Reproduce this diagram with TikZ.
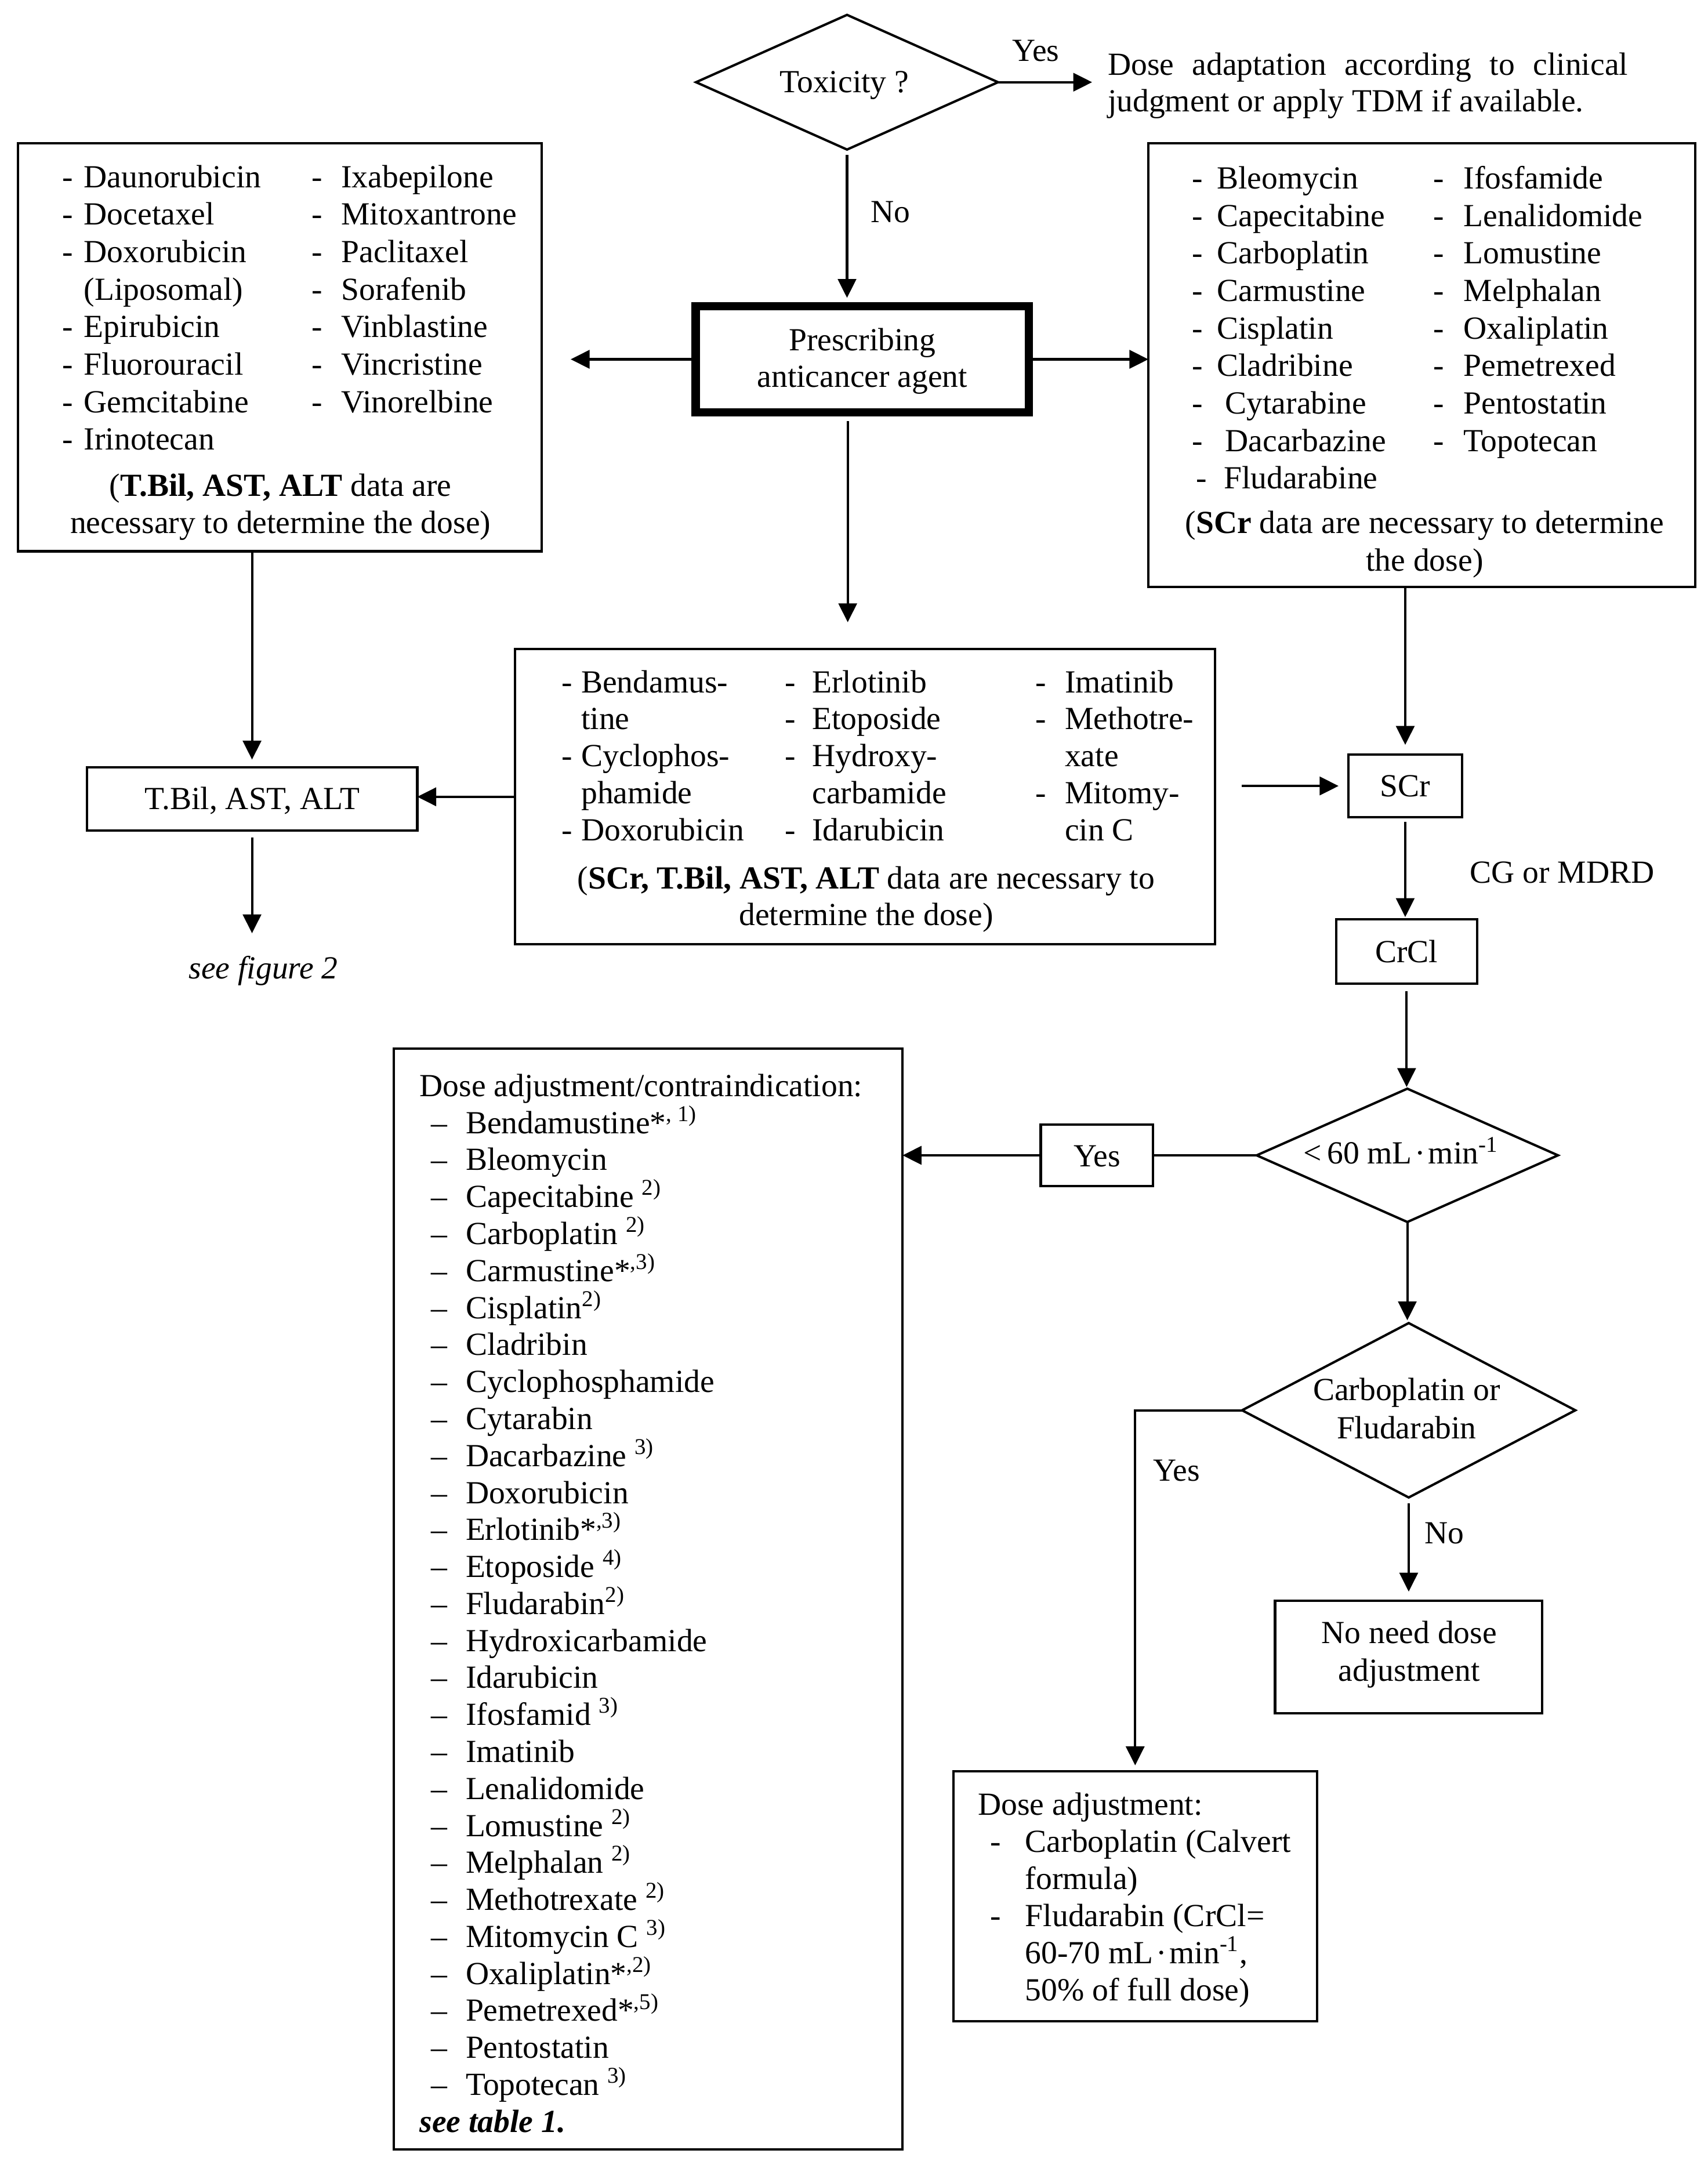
\documentclass[tikz,border=0pt]{standalone}
\usepackage{fontspec}
\setmainfont{Liberation Serif}
\usetikzlibrary{arrows.meta,shapes.geometric}
\newcommand\fsz{\fontsize{11.6}{13.35}\selectfont}
\begin{document}
\begin{tikzpicture}[x=0.5pt,y=-0.5pt,
  box/.style={draw, line width=0.85pt, inner sep=0pt, outer sep=0pt},
  thickbox/.style={draw, line width=3pt, inner sep=0pt, outer sep=0pt},
  dia/.style={draw, diamond, line width=0.85pt, inner sep=0pt, outer sep=0pt},
  tw/.style={font=\fsz, inner sep=0pt, anchor=base west},
  tc/.style={font=\fsz, inner sep=0pt, anchor=base},
  arr/.style={line width=0.85pt, -{Triangle[length=6.8pt,width=6.6pt]}},
  ln/.style={line width=0.85pt}]
\fill[white] (0,0) rectangle (1230,1569.2);
\useasboundingbox (0,0) rectangle (1230,1569.2);

% ---------- shapes ----------
\node[dia, minimum width=108.75pt, minimum height=48.5pt] (X) at (610,59.2) {};
\node[thickbox, minimum width=120pt, minimum height=38.25pt] (P) at (621,258.75) {};
\node[box, minimum width=188.6pt, minimum height=146.85pt] (L) at (201.4,250.15) {};
\node[box, minimum width=197pt, minimum height=159.7pt] (R) at (1024,263) {};
\node[box, minimum width=252pt, minimum height=106.3pt] (C) at (622.9,573.8) {};
\node[box, minimum width=119pt, minimum height=22.9pt] (T) at (181.5,575.3) {};
\node[box, minimum width=41pt, minimum height=22.6pt] (S) at (1012,566) {};
\node[box, minimum width=50.8pt, minimum height=23.1pt] (K) at (1013,685.1) {};
\node[dia, minimum width=108.5pt, minimum height=48pt] (D) at (1013.5,832) {};
\node[box, minimum width=40.5pt, minimum height=22.2pt] (Y) at (790,832) {};
\node[box, minimum width=183.25pt, minimum height=396.35pt] (B) at (466.75,1151.65) {};
\node[dia, minimum width=120pt, minimum height=62.8pt] (F) at (1014.5,1015.6) {};
\node[box, minimum width=96.25pt, minimum height=40.5pt] (N) at (1014.5,1193.3) {};
\node[box, minimum width=131pt, minimum height=90pt] (A) at (817.5,1365.7) {};

% ---------- texts ----------
\node[tc] (Xt) at (608,66.5) {Toxicity ?};
\node[tc] (yes1) at (746,44) {Yes};
\node[tw] (no1) at (626.6,160) {No};
\node[tw] (tdm1) at (797.4,54) {\makebox[187.3pt][s]{Dose adaptation according to clinical}};
\node[tw] (tdm2) at (797.4,80.5) {judgment or apply TDM if available.};
\coordinate (tdmtip) at (786.5,59.2);

\node[tc] (Pt1) at (621,252.5) {Prescribing};
\node[tc] (Pt2) at (621,279) {anticancer agent};

% left box
\foreach \t [count=\i from 0] in {Daunorubicin,Docetaxel,Doxorubicin}
  {\node[tw] (lad\i) at (44.3,135+27*\i) {-}; \node[tw] (la\i) at (60.1,135+27*\i) {\t};}
\node[tw] (la3) at (60.1,216) {(Liposomal)};
\foreach \t [count=\i from 4] in {Epirubicin,Fluorouracil,Gemcitabine,Irinotecan}
  {\node[tw] (lad\i) at (44.3,135+27*\i) {-}; \node[tw] (la\i) at (60.1,135+27*\i) {\t};}
\foreach \t [count=\i from 0] in {Ixabepilone,Mitoxantrone,Paclitaxel,Sorafenib,Vinblastine,Vincristine,Vinorelbine}
  {\node[tw] (lbd\i) at (224,135+27*\i) {-}; \node[tw] (lb\i) at (245.4,135+27*\i) {\t};}
\node[tc] (Lf1) at (202,357.5) {(\textbf{T.Bil, AST, ALT} data are};
\node[tc] (Lf2) at (202,384) {necessary to determine the dose)};

% right box
\foreach \t [count=\i from 0] in {Bleomycin,Capecitabine,Carboplatin,Carmustine,Cisplatin,Cladribine}
  {\node[tw] (rad\i) at (858,136+27*\i) {-}; \node[tw] (ra\i) at (876,136+27*\i) {\t};}
\foreach \t [count=\i from 6] in {Cytarabine,Dacarbazine}
  {\node[tw] (rad\i) at (858,136+27*\i) {-}; \node[tw] (ra\i) at (882,136+27*\i) {\t};}
\node[tw] (rad8) at (861,352) {-};
\node[tw] (ra8) at (881,352) {Fludarabine};
\foreach \t [count=\i from 0] in {Ifosfamide,Lenalidomide,Lomustine,Melphalan,Oxaliplatin,Pemetrexed,Pentostatin,Topotecan}
  {\node[tw] (rbd\i) at (1032,136+27*\i) {-}; \node[tw] (rb\i) at (1053.7,136+27*\i) {\t};}
\node[tc] (Rf1) at (1026,384) {(\textbf{SCr} data are necessary to determine};
\node[tc] (Rf2) at (1026,411) {the dose)};

% centre box
\node[tw] (ca0d) at (404,498.7) {-}; \node[tw] (ca0) at (418.2,498.7) {Bendamus-};
\node[tw] (ca1) at (418.2,525.4) {tine};
\node[tw] (ca2d) at (404,552.1) {-}; \node[tw] (ca2) at (418.2,552.1) {Cyclophos-};
\node[tw] (ca3) at (418.2,578.8) {phamide};
\node[tw] (ca4d) at (404,605.5) {-}; \node[tw] (ca4) at (418.2,605.5) {Doxorubicin};
\node[tw] (cb0d) at (565,498.7) {-}; \node[tw] (cb0) at (584.5,498.7) {Erlotinib};
\node[tw] (cb1d) at (565,525.4) {-}; \node[tw] (cb1) at (584.5,525.4) {Etoposide};
\node[tw] (cb2d) at (565,552.1) {-}; \node[tw] (cb2) at (584.5,552.1) {Hydroxy-};
\node[tw] (cb3) at (584.5,578.8) {carbamide};
\node[tw] (cb4d) at (565,605.5) {-}; \node[tw] (cb4) at (584.5,605.5) {Idarubicin};
\node[tw] (cc0d) at (745.4,498.7) {-}; \node[tw] (cc0) at (766.5,498.7) {Imatinib};
\node[tw] (cc1d) at (745.4,525.4) {-}; \node[tw] (cc1) at (766.5,525.4) {Methotre-};
\node[tw] (cc2) at (766.5,552.1) {xate};
\node[tw] (cc3d) at (745.4,578.8) {-}; \node[tw] (cc3) at (766.5,578.8) {Mitomy-};
\node[tw] (cc4) at (766.5,605.5) {cin C};
\node[tc] (Cf1) at (623.8,640) {(\textbf{SCr, T.Bil, AST, ALT} data are necessary to};
\node[tc] (Cf2) at (623.8,666.5) {determine the dose)};

\node[tc] (Tt) at (181.7,583) {T.Bil, AST, ALT};
\node[tc, font=\fsz\itshape] (fig2) at (189.7,704.8) {see figure 2};
\node[tc] (St) at (1012,573.6) {SCr};
\node[tw] (cg) at (1058.2,636) {CG or MDRD};
\node[tc] (Kt) at (1013,693) {CrCl};
\node[tc] (Dt) at (1009,838.2) {<\kern2pt 60 mL\kern1pt·\kern1pt min\textsuperscript{-1}};
\node[tc] (Yt) at (790,840) {Yes};
\node[tc] (Ft1) at (1013,1008.4) {Carboplatin or};
\node[tc] (Ft2) at (1013,1036) {Fludarabin};
\node[tw] (yes3) at (830,1066.5) {Yes};
\node[tw] (no3) at (1025.5,1111.5) {No};
\node[tc] (Nt1) at (1014.8,1183.4) {No need dose};
\node[tc] (Nt2) at (1014.8,1210.6) {adjustment};

% small dose box
\node[tw] (At0) at (704,1307) {Dose adjustment:};
\node[tw] (Ad1) at (712.6,1333.8) {-};
\node[tw] (At1) at (738,1333.8) {Carboplatin (Calvert};
\node[tw] (At2) at (738,1360.5) {formula)};
\node[tw] (Ad3) at (712.6,1387.2) {-};
\node[tw] (At3) at (738,1387.2) {Fludarabin (CrCl=};
\node[tw] (At4) at (738,1413.9) {60-70 mL\kern1pt·\kern1pt min\textsuperscript{-1},};
\node[tw] (At5) at (738,1440.6) {50\% of full dose)};

% big box
\node[tw] (Bh) at (301.8,789.5) {Dose adjustment/contraindication:};
\foreach \t [count=\i from 0] in {{Bendamustine*\textsuperscript{, 1)}}, Bleomycin, {Capecitabine \textsuperscript{2)}}, {Carboplatin \textsuperscript{2)}}, {Carmustine*\textsuperscript{,3)}}, {Cisplatin\textsuperscript{2)}}, Cladribin, Cyclophosphamide, Cytarabin, {Dacarbazine \textsuperscript{3)}}, Doxorubicin, {Erlotinib*\textsuperscript{,3)}}, {Etoposide \textsuperscript{4)}}, {Fludarabin\textsuperscript{2)}}, Hydroxicarbamide, Idarubicin, {Ifosfamid \textsuperscript{3)}}, Imatinib, Lenalidomide, {Lomustine \textsuperscript{2)}}, {Melphalan \textsuperscript{2)}}, {Methotrexate \textsuperscript{2)}}, {Mitomycin C \textsuperscript{3)}}, {Oxaliplatin*\textsuperscript{,2)}}, {Pemetrexed*\textsuperscript{,5)}}, Pentostatin, {Topotecan \textsuperscript{3)}}}
  {\node[tw] (bd\i) at (310,816.2+26.64*\i) {--}; \node[tw] (bi\i) at (335,816.2+26.64*\i) {\t};}
\node[tw, font=\fsz\bfseries\itshape] (Bf) at (301.8,1535.4) {see table 1.};

% ---------- connectors ----------
\coordinate (cx) at (610.5,0);
\draw[arr] (X.east) -- (tdmtip);
\draw[arr, shorten <=2pt, shorten >=3pt] (X.south) -- (X.south |- P.north);
\draw[arr, shorten >=10.5pt] (P.west) -- (P.west -| L.east);
\draw[arr] (P.east) -- (P.east -| R.west);
\draw[arr, shorten <=3.2pt, shorten >=9.7pt] (P.south -| cx) -- (C.north -| cx);
\draw[arr, shorten >=2.7pt] (L.south -| T.north) -- (T.north);
\draw[arr] (C.west) -- (C.west -| T.east);
\draw[arr, shorten <=2.4pt, shorten >=8pt] (T.south) -- (T.south |- fig2.north);
\draw[arr, shorten >=3.5pt] (R.south -| S.north) -- (S.north);
\draw[arr, shorten <=9.7pt, shorten >=3.5pt] (C.east |- S.west) -- (S.west);
\draw[arr, shorten <=1.7pt, shorten >=0.8pt] (S.south) -- (S.south |- K.north);
\draw[arr, shorten <=2.9pt, shorten >=0.6pt] (K.south) -- (K.south |- D.north);
\draw[ln] (D.west) -- (Y.east);
\draw[arr] (Y.west) -- (Y.west -| B.east);
\draw[arr, shorten >=1pt] (D.south) -- (D.south |- F.north);
\draw[arr, shorten >=2.2pt] (F.west) -| (A.north);
\draw[arr, shorten <=2.1pt, shorten >=3.3pt] (F.south) -- (F.south |- N.north);
\end{tikzpicture}
\end{document}
